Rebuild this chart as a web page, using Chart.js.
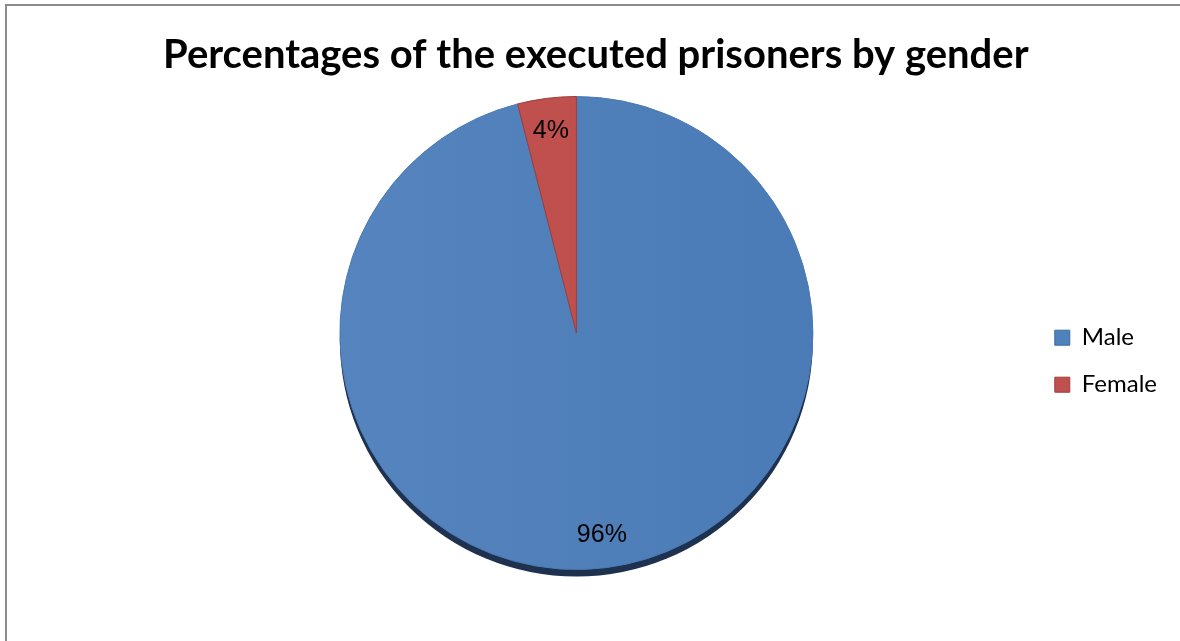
<!DOCTYPE html>
<html>
<head>
<meta charset="utf-8">
<script src="https://cdn.jsdelivr.net/npm/chart.js@4/dist/chart.umd.min.js"></script>
<style>
    html, body { margin: 0; padding: 0; background: #fff; overflow: hidden; }
    #khung {
        position: absolute; left: 5px; top: 4px;
        width: 1200px; height: 660px;
        border: 2px solid #8c8c8c; background: #fff;
    }
    #bieuDo { position: absolute; left: 0; top: 0; }
</style>
</head>
<body>
<div id="khung">
    <canvas id="bieuDo" width="1180" height="635"></canvas>
</div>
<script>
// du lieu doc tu hinh
const nhan = ['Male', 'Female'];
const phanTram = [96, 4];
const nhanSo = ['96%', '4%'];
const mauNen = ['#4f81bd', '#c0504d'];
const mauVien = ['#3e6a9e', '#9c3f3c'];

// bong do phia duoi hinh tron
const bongDo = {
    id: 'bongDo',
    beforeDatasetsDraw(chart) {
        const arc = chart.getDatasetMeta(0).data[0];
        if (!arc) return;
        const ctx = chart.ctx;
        ctx.save();
        ctx.fillStyle = '#1e3250';
        ctx.beginPath();
        ctx.arc(arc.x, arc.y + 7, arc.outerRadius, 0, Math.PI * 2);
        ctx.fill();
        ctx.restore();
    }
};

// ghi so phan tram trong tung lat
const ghiNhan = {
    id: 'ghiNhan',
    afterDatasetsDraw(chart) {
        const ctx = chart.ctx;
        ctx.save();
        ctx.font = '25px "Liberation Sans", Arial, sans-serif';
        ctx.fillStyle = '#000';
        ctx.textAlign = 'center';
        ctx.textBaseline = 'middle';
        chart.getDatasetMeta(0).data.forEach((arc, i) => {
            const p = arc.getProps(['x', 'y', 'startAngle', 'endAngle', 'outerRadius'], true);
            const goc = (p.startAngle + p.endAngle) / 2;
            const r = p.outerRadius * 0.86;
            ctx.fillText(nhanSo[i], p.x + Math.cos(goc) * r, p.y + Math.sin(goc) * r);
        });
        ctx.restore();
    }
};

const ctx = document.getElementById('bieuDo').getContext('2d');
new Chart(ctx, {
    type: 'pie',
    data: {
        labels: nhan,
        datasets: [{
            data: phanTram,
            backgroundColor(c) {
                const ca = c.chart.chartArea;
                if (!ca || c.dataIndex !== 0) return mauNen[c.dataIndex];
                const g = c.chart.ctx.createLinearGradient(ca.left, 0, ca.right, 0);
                g.addColorStop(0, '#5a88c2');
                g.addColorStop(1, '#4677b2');
                return g;
            },
            borderColor: ['#4a7ab4', '#9c3f3c'],
            borderWidth: 1
        }]
    },
    options: {
        responsive: false,
        animation: false,
        layout: { padding: { left: 114, right: 20, bottom: 71, top: 0 } },
        plugins: {
            title: {
                display: true,
                fullSize: false,
                // may khoang trang dau de day tieu de sang phai mot chut
                text: '    Percentages of the executed prisoners by gender',
                color: '#000',
                font: { family: 'Lato', size: 40, weight: 'bold' },
                padding: { top: 25, bottom: 17 }
            },
            legend: {
                position: 'right',
                title: { display: true, text: '', padding: { top: 132, bottom: 0 } },
                labels: {
                    color: '#000',
                    font: { family: 'Lato', size: 24 },
                    boxWidth: 15,
                    boxHeight: 15,
                    padding: 23,
                    generateLabels(chart) {
                        return nhan.map((t, i) => ({
                            text: t,
                            fillStyle: mauNen[i],
                            strokeStyle: mauVien[i],
                            fontColor: '#000',
                            lineWidth: 1,
                            index: i
                        }));
                    }
                }
            },
            tooltip: { enabled: false }
        }
    },
    plugins: [bongDo, ghiNhan]
});
</script>
</body>
</html>
